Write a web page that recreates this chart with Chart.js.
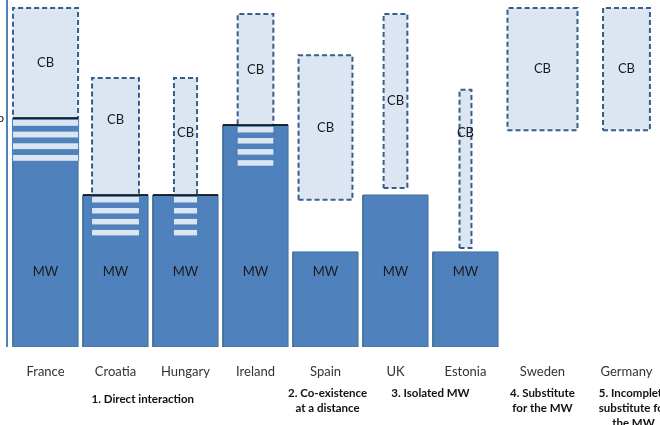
<!DOCTYPE html>
<html>
<head>
  <title>Minimum wage and collective bargaining</title>
  <script src="https://cdn.jsdelivr.net/npm/chart.js"></script>
  <style>
    body { margin: 0; background: #fff; overflow: hidden; }
    #wrap { width: 660px; height: 425px; }
  </style>
</head>
<body>
  <div id="wrap"><canvas id="mwChart"></canvas></div>

  <script>
    // data (arbitrary level units, 0 = baseline)
    const countries = ["France", "Croatia", "Hungary", "Ireland", "Spain", "UK", "Estonia", "Sweden", "Germany"];
    const slot = [1, 2, 3, 4, 5, 6, 7, 8.1, 9.3];
    const mwLevel = [6.6, 4.38, 4.38, 6.4, 2.74, 4.38, 2.74, null, null];
    const cbLow = [5.39, 3.23, 3.23, 5.24, 4.24, 4.58, 2.85, 6.25, 6.25];
    const cbHigh = [9.77, 7.75, 7.75, 9.6, 8.41, 9.6, 7.41, 9.77, 9.77];
    const cbCoverage = [0.93, 0.67, 0.33, 0.51, 0.77, 0.34, 0.17, 1.0, 0.67];
    const groupNames = [
      ["1. Direct interaction"],
      ["2. Co-existence", "at a distance"],
      ["3. Isolated MW"],
      ["4. Substitute", "for the MW"],
      ["5. Incomplete", "substitute for", "the MW"]
    ];
    const groupMembers = [[0, 3], [4, 4], [5, 6], [7, 7], [8, 8]];

    const barWidth = 0.93;
    const blue = "#4f81bd";
    const light = "#dce6f2";
    const dashBlue = "#385d8a";
    const font = "Lato, 'Open Sans', sans-serif";

    function rect(x0, x1, y0, y1) {
      return [{x: x0, y: y0}, {x: x1, y: y0}, {x: x1, y: y1}, {x: x0, y: y1}, {x: x0, y: y0}];
    }

    const datasets = [];
    countries.forEach((c, i) => {
      if (mwLevel[i] == null) return;
      datasets.push({
        label: c + " MW",
        data: rect(slot[i] - barWidth / 2, slot[i] + barWidth / 2, 0, mwLevel[i]),
        borderColor: "#41719c",
        borderWidth: 1,
        backgroundColor: blue,
        fill: "shape",
        order: 2
      });
    });
    countries.forEach((c, i) => {
      datasets.push({
        label: c + " CB",
        data: rect(slot[i] - cbCoverage[i] / 2, slot[i] + cbCoverage[i] / 2, cbLow[i], cbHigh[i]),
        borderColor: dashBlue,
        borderWidth: 2,
        borderDash: [5, 3],
        backgroundColor: light,
        fill: "shape",
        order: 1
      });
    });

    const overlay = {
      id: "overlay",
      afterDatasetsDraw(chart, args, opts) {
        const ctx = chart.ctx;
        const xs = chart.scales.x, ys = chart.scales.y;
        ctx.save();

        // y axis line
        ctx.strokeStyle = blue;
        ctx.lineWidth = 2;
        ctx.beginPath();
        ctx.moveTo(chart.chartArea.left - 1, chart.chartArea.top);
        ctx.lineTo(chart.chartArea.left - 1, ys.getPixelForValue(0));
        ctx.stroke();

        // overlap of MW and CB: striped, with black line at the MW level
        countries.forEach((c, i) => {
          if (mwLevel[i] == null || cbLow[i] >= mwLevel[i]) return;
          const l = xs.getPixelForValue(slot[i] - cbCoverage[i] / 2);
          const r = xs.getPixelForValue(slot[i] + cbCoverage[i] / 2);
          const top = ys.getPixelForValue(mwLevel[i]);
          const bot = ys.getPixelForValue(cbLow[i]);
          const h = bot - top;
          const pitch = (h - 7) / 3;
          ctx.fillStyle = blue;
          ctx.fillRect(l - 1, top, r - l + 2, h + 1);
          ctx.fillStyle = light;
          for (let k = 0; k < 4; k++) {
            ctx.fillRect(l, top + 2 + k * pitch, r - l, pitch * 0.5);
          }
          ctx.strokeStyle = "#000";
          ctx.lineWidth = 1.5;
          ctx.beginPath();
          ctx.moveTo(xs.getPixelForValue(slot[i] - barWidth / 2), top);
          ctx.lineTo(xs.getPixelForValue(slot[i] + barWidth / 2), top);
          ctx.stroke();
        });

        ctx.fillStyle = "#1a1a1a";
        ctx.textAlign = "center";
        ctx.textBaseline = "middle";
        ctx.font = "13px " + font;

        // CB and MW labels
        countries.forEach((c, i) => {
          const x = xs.getPixelForValue(slot[i]);
          let lo = cbLow[i];
          if (mwLevel[i] != null) lo = Math.max(lo, mwLevel[i]);
          const at = opts.cbLabelAt[i] != null ? opts.cbLabelAt[i] : (lo + cbHigh[i]) / 2;
          ctx.fillText("CB", x, ys.getPixelForValue(at));
          if (mwLevel[i] != null) ctx.fillText("MW", x, ys.getPixelForValue(opts.mwLabelAt));
        });

        // category labels
        ctx.fillStyle = "#333";
        countries.forEach((c, i) => {
          ctx.fillText(c, xs.getPixelForValue(slot[i]), opts.catY);
        });

        // group labels
        ctx.font = "bold 11.5px " + font;
        ctx.fillStyle = "#111";
        groupNames.forEach((lines, g) => {
          const [a, b] = groupMembers[g];
          const x = xs.getPixelForValue((slot[a] + slot[b]) / 2 + opts.groupShift[g]);
          lines.forEach((t, k) => ctx.fillText(t, x, opts.groupY[g] + k * 15));
        });

        ctx.font = "12px " + font;
        ctx.textAlign = "right";
        ctx.fillText("o", 4, ys.getPixelForValue(mwLevel[0]));
        ctx.restore();
      }
    };

    new Chart(document.getElementById("mwChart"), {
      type: "scatter",
      data: { datasets: datasets },
      options: {
        responsive: true,
        maintainAspectRatio: false,
        animation: false,
        showLine: true,
        elements: { point: { radius: 0, hoverRadius: 0 }, line: { tension: 0 } },
        layout: { padding: { left: 8, right: 0, top: 0, bottom: 78 } },
        scales: {
          x: { type: "linear", min: 0.464, max: 9.779, display: false },
          y: { min: 0, max: 10, display: false }
        },
        plugins: {
          legend: { display: false },
          tooltip: { enabled: false },
          overlay: {
            cbLabelAt: [null, 6.54, 6.17, null, null, null, 6.17, null, null],
            mwLabelAt: 2.16,
            catY: 372,
            groupY: [399, 393, 393, 393, 393],
            groupShift: [-0.11, 0.03, 0, 0, 0.1]
          }
        }
      },
      plugins: [overlay]
    });
  </script>
</body>
</html>
